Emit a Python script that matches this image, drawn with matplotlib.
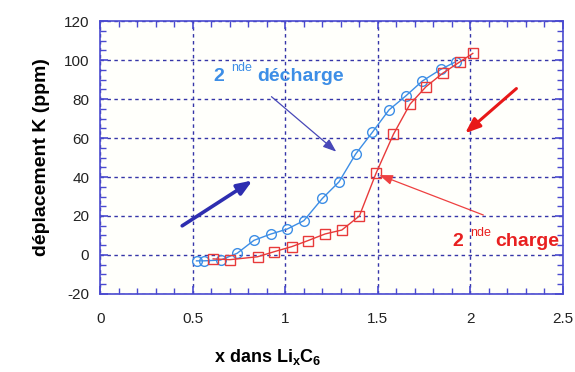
import matplotlib
matplotlib.use("Agg")
import matplotlib.pyplot as plt
from matplotlib.ticker import MultipleLocator

plt.rcParams['font.family'] = ['Liberation Sans', 'DejaVu Sans']
plt.rcParams['axes.unicode_minus'] = False

# data
x_decharge = [0.52, 0.56, 0.65, 0.74, 0.83, 0.92, 1.01, 1.10, 1.20, 1.29,
              1.38, 1.47, 1.56, 1.65, 1.74, 1.84, 1.92]
y_decharge = [-3, -3, -2.6, 0.9, 7.5, 10.7, 13.3, 17.6, 29, 37.5,
              51.8, 62.9, 74.4, 81.5, 89.2, 95.2, 99.1]

x_charge = [0.61, 0.70, 0.85, 0.94, 1.035, 1.12, 1.215, 1.305, 1.40,
            1.49, 1.584, 1.674, 1.76, 1.85, 1.944, 2.013]
y_charge = [-2, -2.4, -0.9, 1.7, 4.3, 7.3, 10.8, 12.8, 20,
            41.9, 61.9, 77.4, 86.3, 93.2, 99.1, 103.4]

x_ticks = [0, 0.5, 1, 1.5, 2, 2.5]
y_ticks = [-20, 0, 20, 40, 60, 80, 100, 120]

fig = plt.figure(figsize=(5.75, 3.72), dpi=100)
ax = fig.add_axes([0.1744, 0.2097, 0.8046, 0.7338])
ax.set_facecolor('#fffffb')

ax.set_xlim(0, 2.5)
ax.set_ylim(-20, 120)
ax.set_xticks(x_ticks)
ax.set_xticklabels(['0', '0.5', '1', '1.5', '2', '2.5'])
ax.set_yticks(y_ticks)
ax.xaxis.set_minor_locator(MultipleLocator(0.1))
ax.yaxis.set_minor_locator(MultipleLocator(5))

spine_c = '#4a4ad0'
for s in ax.spines.values():
    s.set_color(spine_c)
    s.set_linewidth(1.2)
ax.tick_params(which='both', direction='in', top=True, right=True, color=spine_c)
ax.tick_params(which='major', length=6, width=1.2, labelsize=11, labelcolor='#222222')
ax.tick_params(which='minor', length=4, width=1.0)
ax.tick_params(axis='x', which='major', pad=13)
ax.tick_params(axis='y', which='major', pad=8)

ax.grid(True, which='major', color='#3535a8', linestyle=(0, (2.5, 2.5)), linewidth=1.0)
ax.set_axisbelow(True)

ax.plot(x_decharge, y_decharge, color='#3d8ee6', lw=1.0, marker='o', ms=7,
        mfc='none', mec='#3d8ee6', mew=1.0, zorder=3)
ax.plot(x_charge, y_charge, color='#e83a3a', lw=1.0, marker='s', ms=7,
        mfc='none', mec='#e83a3a', mew=1.0, zorder=3)

# arrows
ax.annotate('', xy=(0.835, 39), xytext=(0.43, 14.2),
            arrowprops=dict(arrowstyle='-|>,head_length=0.9,head_width=0.35',
                            color='#2e2eb0', lw=2.6))
ax.annotate('', xy=(1.275, 53), xytext=(0.925, 81.2),
            arrowprops=dict(arrowstyle='-|>,head_length=0.8,head_width=0.3',
                            color='#4848b8', lw=0.9, shrinkA=0, shrinkB=0))
ax.annotate('', xy=(1.96, 61.5), xytext=(2.26, 86.3),
            arrowprops=dict(arrowstyle='-|>,head_length=0.9,head_width=0.35',
                            color='#e81818', lw=2.2))
ax.annotate('', xy=(1.508, 41), xytext=(2.07, 20.5),
            arrowprops=dict(arrowstyle='-|>,head_length=0.8,head_width=0.3',
                            color='#ee4040', lw=0.9, shrinkA=0, shrinkB=0))

# labels: "2", small superscript "nde", then word
def label(x, y, word, color, word_dx):
    ax.text(x, y, '2', color=color, fontsize=14, fontweight='bold',
            va='center', ha='left')
    ax.annotate('nde', xy=(x, y), xytext=(13, 6), textcoords='offset points',
                color=color, fontsize=9, va='center', ha='left')
    ax.annotate(word, xy=(x, y), xytext=(word_dx, 0), textcoords='offset points',
                color=color, fontsize=14, fontweight='bold', va='center', ha='left')

label(0.61, 91.5, 'décharge', '#3d8ee6', 32)
label(1.90, 7.0, 'charge', '#e82020', 31)

ax.set_ylabel('déplacement K (ppm)', fontsize=14, fontweight='bold', labelpad=10)
fig.text(0.465, 0.04, 'x dans Li$_{\\mathregular{x}}$C$_{\\mathregular{6}}$',
         fontsize=13, fontweight='bold', ha='center', va='center')

fig.savefig('out.png', dpi=100, facecolor='white')
